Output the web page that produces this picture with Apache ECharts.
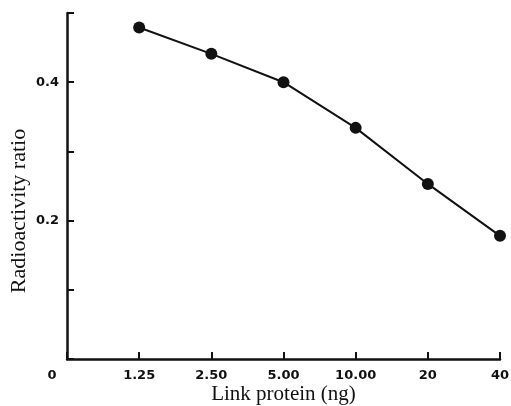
<!DOCTYPE html>
<html>
<head>
<meta charset="utf-8">
<script src="https://cdn.jsdelivr.net/npm/echarts@6/dist/echarts.min.js"></script>
<style>
  html, body { margin: 0; padding: 0; background: #fff; }
  #chart { width: 511px; height: 406px; }
</style>
</head>
<body>
<div id="chart"></div>
<script>
// categories along x (0 is the origin)
const xLabels = ['0', '1.25', '2.50', '5.00', '10.00', '20', '40'];
const xPos = [1, 2, 3, 4, 5, 6];
const ratio = [0.479, 0.441, 0.400, 0.334, 0.253, 0.178];
const yLabelled = [0.2, 0.4];

const chart = echarts.init(document.getElementById('chart'));

const points = xPos.map((x, i) => [x, ratio[i]]);

const labelFont = { fontFamily: 'DejaVu Sans', fontSize: 13, fontWeight: 'bold', color: '#111' };
const nameFont = { fontFamily: 'Liberation Serif', fontSize: 21, color: '#111' };

chart.setOption({
  animation: false,
  backgroundColor: '#fff',
  grid: { left: 67, right: 11, top: 13, bottom: 47, outerBoundsMode: 'none', containLabel: false },
  xAxis: {
    type: 'value',
    min: 0,
    max: 6,
    interval: 1,
    name: 'Link protein (ng)',
    nameLocation: 'middle',
    nameGap: 25,
    nameMoveOverlap: false,
    nameTextStyle: nameFont,
    axisLine: { lineStyle: { color: '#111', width: 2.5 } },
    axisTick: { inside: true, length: 7, lineStyle: { color: '#111', width: 2 } },
    splitLine: { show: false },
    axisLabel: Object.assign({
      margin: 10,
      formatter: v => v === 0 ? '{o|0}' : xLabels[v],
      rich: { o: Object.assign({ padding: [0, 30, 0, 0] }, labelFont) }
    }, labelFont)
  },
  yAxis: {
    type: 'value',
    min: 0,
    max: 0.5,
    interval: 0.1,
    name: 'Radioactivity ratio',
    nameLocation: 'middle',
    nameGap: 37,
    nameMoveOverlap: false,
    nameTextStyle: Object.assign({ padding: [0, 50, 0, 0] }, nameFont, { fontSize: 22 }),
    axisLine: { show: true, lineStyle: { color: '#111', width: 2.5 } },
    axisTick: { show: true, inside: true, length: 7, lineStyle: { color: '#111', width: 2 } },
    splitLine: { show: false },
    axisLabel: Object.assign({
      margin: 8,
      formatter: v => yLabelled.some(l => Math.abs(l - v) < 1e-6) ? v.toFixed(1) : ''
    }, labelFont)
  },
  series: [{
    type: 'line',
    data: points,
    symbol: 'circle',
    symbolSize: 12,
    lineStyle: { color: '#111', width: 2 },
    itemStyle: { color: '#111' }
  }]
});
</script>
</body>
</html>
